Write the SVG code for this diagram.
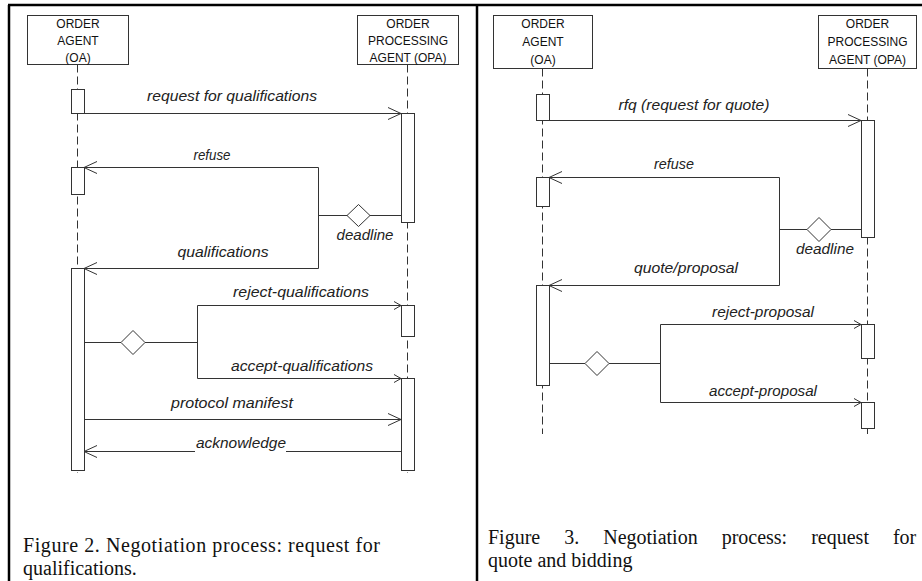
<svg xmlns="http://www.w3.org/2000/svg" width="922" height="581" viewBox="0 0 922 581">
<style>
.frame{stroke:#000;stroke-width:2.5;fill:none}
.box{fill:#fff;stroke:#333;stroke-width:1}
.act{fill:#fff;stroke:#333;stroke-width:1}
.life{stroke:#333;stroke-width:1;stroke-dasharray:8,4;fill:none}
.msg{stroke:#333;stroke-width:1;fill:none}
.dia{fill:#fff;stroke:#333;stroke-width:1}
.bt{font-family:"Liberation Sans",Arial,sans-serif;font-size:12px;fill:#111;text-anchor:middle}
.lb{font-family:"Liberation Sans",Arial,sans-serif;font-size:14px;font-style:italic;fill:#222;text-anchor:middle}
.cap{font-family:"Liberation Serif","Times New Roman",serif;font-size:20px;fill:#111}
</style>
<defs>
<marker id="big" markerUnits="userSpaceOnUse" markerWidth="16" markerHeight="14" refX="13" refY="6" orient="auto" overflow="visible">
<path d="M0,0 L13,6 L0,12" fill="none" stroke="#333" stroke-width="1"/>
</marker>
<marker id="small" markerUnits="userSpaceOnUse" markerWidth="10" markerHeight="10" refX="7" refY="4" orient="auto" overflow="visible">
<path d="M0,0 L7,4 L0,8" fill="none" stroke="#333" stroke-width="1"/>
</marker>
</defs>
<rect width="922" height="581" fill="#fff"/>
<g id="frames">
<line class="frame" x1="8" y1="5" x2="922" y2="5"/>
<line class="frame" x1="9" y1="5" x2="9" y2="581"/>
<line class="frame" x1="477" y1="5" x2="477" y2="581"/>
</g>

<!-- Figure 2 -->
<g id="fig2-oa">
<rect class="box" x="27.5" y="15.5" width="101" height="49"/>
<text class="bt" x="78" y="28">ORDER</text>
<text class="bt" x="78" y="45">AGENT</text>
<text class="bt" x="78" y="62">(OA)</text>
</g>
<g id="fig2-opa">
<rect class="box" x="357.5" y="15.5" width="101" height="49"/>
<text class="bt" x="408" y="28">ORDER</text>
<text class="bt" x="408" y="45">PROCESSING</text>
<text class="bt" x="408" y="62">AGENT (OPA)</text>
</g>
<g id="fig2-connectors">
<line class="life" x1="77.5" y1="64.5" x2="77.5" y2="473"/>
<line class="life" x1="407.5" y1="64.5" x2="407.5" y2="473"/>
<line class="msg" x1="84" y1="113.5" x2="401" y2="113.5" marker-end="url(#big)"/>
<polyline class="msg" points="401,215.5 370,215.5"/>
<polyline class="msg" points="347,215.5 318.5,215.5"/>
<line class="msg" x1="318.5" y1="167.5" x2="318.5" y2="268.5"/>
<line class="msg" x1="318.5" y1="167.5" x2="84" y2="167.5" marker-end="url(#big)"/>
<line class="msg" x1="318.5" y1="268.5" x2="84" y2="268.5" marker-end="url(#big)"/>
<line class="msg" x1="84" y1="342.5" x2="121" y2="342.5"/>
<line class="msg" x1="145" y1="342.5" x2="197.5" y2="342.5"/>
<line class="msg" x1="197.5" y1="305.5" x2="197.5" y2="378.5"/>
<line class="msg" x1="197.5" y1="305.5" x2="401" y2="305.5" marker-end="url(#small)"/>
<line class="msg" x1="197.5" y1="378.5" x2="401" y2="378.5" marker-end="url(#small)"/>
<line class="msg" x1="84" y1="419.5" x2="401" y2="419.5" marker-end="url(#big)"/>
<line class="msg" x1="401" y1="451.5" x2="286" y2="451.5"/>
<line class="msg" x1="195" y1="451.5" x2="84" y2="451.5" marker-end="url(#big)"/>
</g>
<g id="fig2-activations">
<rect class="act" x="71.5" y="89.5" width="13" height="24"/>
<rect class="act" x="71.5" y="167.5" width="13" height="27"/>
<rect class="act" x="71.5" y="268.5" width="13" height="202"/>
<rect class="act" x="401.5" y="113.5" width="13" height="109"/>
<rect class="act" x="401.5" y="305.5" width="13" height="31"/>
<rect class="act" x="401.5" y="378.5" width="13" height="92"/>
</g>
<g id="fig2-deadline">
<polygon class="dia" points="347,215.5 358.5,204.5 370,215.5 358.5,226.5"/>
<text class="lb" x="365" y="240" textLength="57" lengthAdjust="spacingAndGlyphs">deadline</text>
</g>
<g id="fig2-choice">
<polygon class="dia" points="121,342.5 133,330.5 145,342.5 133,354.5"/>
</g>
<g id="fig2-labels">
<text class="lb" x="232" y="101" textLength="170" lengthAdjust="spacingAndGlyphs">request for qualifications</text>
<text class="lb" x="212" y="160" textLength="37" lengthAdjust="spacingAndGlyphs">refuse</text>
<text class="lb" x="223" y="257" textLength="91" lengthAdjust="spacingAndGlyphs">qualifications</text>
<text class="lb" x="301" y="297" textLength="136" lengthAdjust="spacingAndGlyphs">reject-qualifications</text>
<text class="lb" x="302" y="371" textLength="142" lengthAdjust="spacingAndGlyphs">accept-qualifications</text>
<text class="lb" x="232" y="408" textLength="122" lengthAdjust="spacingAndGlyphs">protocol manifest</text>
<text class="lb" x="241" y="448" textLength="90" lengthAdjust="spacingAndGlyphs">acknowledge</text>
</g>
<g id="fig2-caption">
<text class="cap" x="23" y="552" textLength="357" lengthAdjust="spacing">Figure 2. Negotiation process: request for</text>
<text class="cap" x="23" y="575">qualifications.</text>
</g>

<!-- Figure 3 -->
<g id="fig3-oa">
<rect class="box" x="493.5" y="15.5" width="99" height="53"/>
<text class="bt" x="543" y="28">ORDER</text>
<text class="bt" x="543" y="46">AGENT</text>
<text class="bt" x="543" y="64">(OA)</text>
</g>
<g id="fig3-opa">
<rect class="box" x="818.5" y="15.5" width="98" height="53"/>
<text class="bt" x="867.5" y="28">ORDER</text>
<text class="bt" x="867.5" y="46">PROCESSING</text>
<text class="bt" x="867.5" y="64">AGENT (OPA)</text>
</g>
<g id="fig3-connectors">
<line class="life" x1="542.5" y1="68.5" x2="542.5" y2="434"/>
<line class="life" x1="867.5" y1="68.5" x2="867.5" y2="434"/>
<line class="msg" x1="549" y1="120.5" x2="861" y2="120.5" marker-end="url(#big)"/>
<line class="msg" x1="779.5" y1="177.5" x2="779.5" y2="285.5"/>
<line class="msg" x1="779.5" y1="177.5" x2="549" y2="177.5" marker-end="url(#big)"/>
<line class="msg" x1="779.5" y1="285.5" x2="549" y2="285.5" marker-end="url(#big)"/>
<line class="msg" x1="779.5" y1="229.5" x2="807" y2="229.5"/>
<line class="msg" x1="831" y1="229.5" x2="861" y2="229.5"/>
<line class="msg" x1="549" y1="363.5" x2="585" y2="363.5"/>
<line class="msg" x1="609" y1="363.5" x2="660.5" y2="363.5"/>
<line class="msg" x1="660.5" y1="324.5" x2="660.5" y2="402.5"/>
<line class="msg" x1="660.5" y1="324.5" x2="861" y2="324.5" marker-end="url(#small)"/>
<line class="msg" x1="660.5" y1="402.5" x2="861" y2="402.5" marker-end="url(#small)"/>
</g>
<g id="fig3-activations">
<rect class="act" x="536.5" y="94.5" width="13" height="26"/>
<rect class="act" x="536.5" y="177.5" width="13" height="29"/>
<rect class="act" x="536.5" y="285.5" width="13" height="100"/>
<rect class="act" x="861.5" y="120.5" width="13" height="117"/>
<rect class="act" x="861.5" y="324.5" width="13" height="34"/>
<rect class="act" x="861.5" y="402.5" width="13" height="26"/>
</g>
<g id="fig3-deadline">
<polygon class="dia" points="807,229.5 819,217.5 831,229.5 819,241.5"/>
<text class="lb" x="825" y="254" textLength="58" lengthAdjust="spacingAndGlyphs">deadline</text>
</g>
<g id="fig3-choice">
<polygon class="dia" points="585,363.5 597,351.5 609,363.5 597,375.5"/>
</g>
<g id="fig3-labels">
<text class="lb" x="694" y="110" textLength="151" lengthAdjust="spacingAndGlyphs">rfq (request for quote)</text>
<text class="lb" x="674" y="169" textLength="40" lengthAdjust="spacingAndGlyphs">refuse</text>
<text class="lb" x="686" y="273" textLength="104" lengthAdjust="spacingAndGlyphs">quote/proposal</text>
<text class="lb" x="763" y="317" textLength="102" lengthAdjust="spacingAndGlyphs">reject-proposal</text>
<text class="lb" x="763" y="396" textLength="108" lengthAdjust="spacingAndGlyphs">accept-proposal</text>
</g>
<g id="fig3-caption">
<text class="cap" x="488" y="544" word-spacing="19">Figure 3. Negotiation process: request for</text>
<text class="cap" x="488" y="567">quote and bidding</text>
</g>
</svg>
